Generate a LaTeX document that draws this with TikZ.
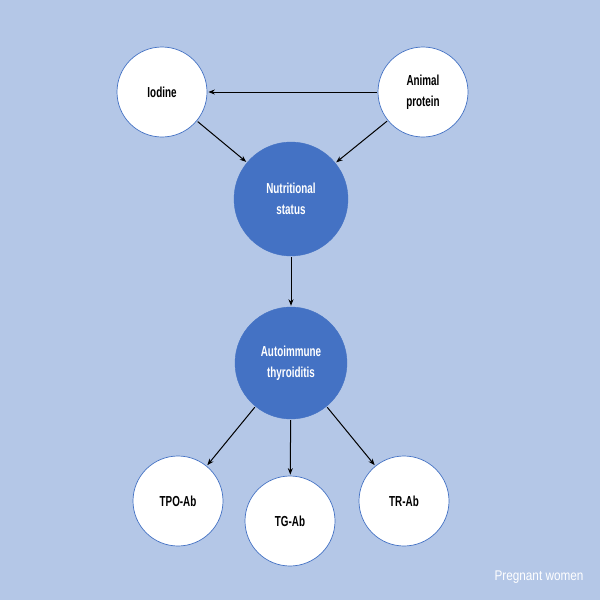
\documentclass[tikz,border=0pt]{standalone}
\usepackage{fontspec}
\setmainfont[FakeStretch=0.68]{Liberation Sans}
\newfontfamily\notefont[FakeStretch=0.84]{Liberation Sans}
\usetikzlibrary{arrows.meta}
\definecolor{bgblue}{HTML}{B4C7E7}
\definecolor{darkblue}{HTML}{4472C4}
\tikzset{
  lightcirc/.style={circle, draw=darkblue, line width=0.7pt, fill=white, minimum size=90pt, inner sep=0pt, align=center, font=\fontsize{14.5}{20.5}\selectfont\bfseries},
  darkcirc/.style={circle, draw=darkblue, fill=darkblue, minimum size=114pt, inner sep=0pt, align=center, text=white, font=\fontsize{14.5}{20.5}\selectfont\bfseries},
  conn/.style={-{Stealth[length=6.5pt,width=5pt]}, line width=1pt, black, shorten >=1pt, shorten <=1pt}
}
\begin{document}
\begin{tikzpicture}[x=1pt,y=-1pt]
\path[fill=bgblue] (0,0) rectangle (600,600);
\useasboundingbox (0,0) rectangle (600,600);
\node[lightcirc] (iod) at (162,92) {Iodine};
\node[lightcirc] (ani) at (423,92) {Animal\\protein};
\node[darkcirc] (nut) at (291,199) {Nutritional\\status};
\node[darkcirc, minimum size=112pt] (aut) at (291,363) {Autoimmune\\thyroiditis};
\node[lightcirc] (tpo) at (178,501) {TPO-Ab};
\node[lightcirc] (tg) at (290,521) {TG-Ab};
\node[lightcirc] (tr) at (404,501) {TR-Ab};
\draw[conn] (ani.west) -- (iod.east);
\draw[conn] (iod) -- (nut);
\draw[conn] (ani) -- (nut);
\draw[conn] (nut) -- (aut);
\draw[conn] (aut) -- (tpo);
\draw[conn] (aut) -- (tg);
\draw[conn] (aut) -- (tr);
\node[text=white, font=\notefont\fontsize{14}{16}\selectfont, anchor=center] (note) at (539,577) {Pregnant women};
\end{tikzpicture}
\end{document}
